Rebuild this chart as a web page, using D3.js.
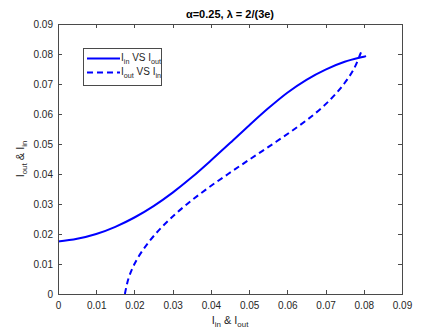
<!DOCTYPE html>
<html>
<head>
<meta charset="utf-8">
<script src="https://cdn.jsdelivr.net/npm/d3@7"></script>
<style>
  html, body { margin: 0; padding: 0; background: #ffffff; }
  svg { display: block; }
  text { font-family: "Liberation Sans", Arial, Helvetica, sans-serif; }
</style>
</head>
<body>
<svg id="chart" width="444" height="333"></svg>
<script>
// ---- data ----
const iIn  = [0, 0.005, 0.01, 0.015, 0.02, 0.025, 0.03, 0.035, 0.04, 0.045, 0.05, 0.055, 0.06, 0.065, 0.07, 0.075, 0.08, 0.0806];
const iOut = [0.0175, 0.0184, 0.0200, 0.0224, 0.0255, 0.0293, 0.0338, 0.0389, 0.0445, 0.0503, 0.0562, 0.0619, 0.0671, 0.0714, 0.0748, 0.0774, 0.0791, 0.0793];
const xTicks = [0, 0.01, 0.02, 0.03, 0.04, 0.05, 0.06, 0.07, 0.08, 0.09];
const yTicks = [0, 0.01, 0.02, 0.03, 0.04, 0.05, 0.06, 0.07, 0.08, 0.09];
const xTickLabels = ["0", "0.01", "0.02", "0.03", "0.04", "0.05", "0.06", "0.07", "0.08", "0.09"];
const yTickLabels = ["0", "0.01", "0.02", "0.03", "0.04", "0.05", "0.06", "0.07", "0.08", "0.09"];

const solid = iIn.map((v, i) => [v, iOut[i]]);
const dashed = iIn.map((v, i) => [iOut[i], v]);

const svg = d3.select("#chart");
const L = 58, R = 402, T = 24, B = 294;
const axisColor = "#4a4a4a";
const textColor = "#262626";

const x = d3.scaleLinear().domain([0, 0.09]).range([L, R]);
const y = d3.scaleLinear().domain([0, 0.09]).range([B, T]);

// lines
const line = d3.line().x(d => x(d[0])).y(d => y(d[1])).curve(d3.curveCatmullRom.alpha(0.5));
const g = svg.append("g");
g.append("path").datum(solid).attr("d", line)
  .attr("fill", "none").attr("stroke", "#0000ff").attr("stroke-width", 2);
g.append("path").datum(dashed).attr("d", line)
  .attr("fill", "none").attr("stroke", "#0000ff").attr("stroke-width", 2)
  .attr("stroke-dasharray", "6,4");

// axes
function styleAxis(sel) {
  sel.select(".domain").remove();
  sel.selectAll(".tick line").attr("stroke", axisColor).attr("shape-rendering", "crispEdges");
  sel.selectAll(".tick text").attr("fill", textColor)
    .style("font-family", '"Liberation Sans", Arial, sans-serif').style("font-size", "10px");
}
const fmtX = (d, i) => xTickLabels[i];
const fmtY = (d, i) => yTickLabels[i];

svg.append("g").attr("transform", `translate(0,${B})`)
  .call(d3.axisBottom(x).tickValues(xTicks).tickFormat(fmtX).tickSizeInner(-4).tickSizeOuter(0).tickPadding(8))
  .call(styleAxis);
svg.append("g").attr("transform", `translate(0,${T})`)
  .call(d3.axisTop(x).tickValues(xTicks).tickFormat(() => null).tickSizeInner(-4).tickSizeOuter(0))
  .call(styleAxis)
  .call(s => s.selectAll(".tick text").remove());
svg.append("g").attr("transform", `translate(${L},0)`)
  .call(d3.axisLeft(y).tickValues(yTicks).tickFormat(fmtY).tickSizeInner(-4).tickSizeOuter(0).tickPadding(5))
  .call(styleAxis);
svg.append("g").attr("transform", `translate(${R},0)`)
  .call(d3.axisRight(y).tickValues(yTicks).tickFormat(() => null).tickSizeInner(-4).tickSizeOuter(0))
  .call(styleAxis)
  .call(s => s.selectAll(".tick text").remove());

// box
svg.append("rect").attr("x", L).attr("y", T).attr("width", R - L).attr("height", B - T)
  .attr("fill", "none").attr("stroke", axisColor).attr("stroke-width", 1)
  .attr("shape-rendering", "crispEdges");

// helper for subscripted text
function subText(sel, parts, size) {
  let lowered = false;
  parts.forEach(p => {
    const ts = sel.append("tspan").text(p.t);
    if (p.sub) {
      ts.attr("font-size", size * 0.72).attr("dy", lowered ? 0 : size * 0.3);
      lowered = true;
    } else {
      ts.attr("font-size", size).attr("dy", lowered ? -size * 0.3 : 0);
      lowered = false;
    }
  });
}

// title
svg.append("text").attr("x", (L + R) / 2).attr("y", 18).attr("text-anchor", "middle")
  .attr("fill", "#000").attr("font-weight", "bold").attr("font-size", 11)
  .text("\u03b1=0.25, \u03bb = 2/(3e)");

// x label
const xl = svg.append("text").attr("x", (L + R) / 2).attr("y", 324).attr("text-anchor", "middle")
  .attr("fill", textColor);
subText(xl, [{t: "I"}, {t: "in", sub: true}, {t: " & I"}, {t: "out", sub: true}], 11);

// y label
const yl = svg.append("text").attr("transform", `translate(24,${(T + B) / 2}) rotate(-90)`)
  .attr("text-anchor", "middle").attr("fill", textColor);
subText(yl, [{t: "I"}, {t: "out", sub: true}, {t: " & I"}, {t: "in", sub: true}], 11);

// legend
const lg = svg.append("g");
lg.append("rect").attr("x", 83).attr("y", 48).attr("width", 78).attr("height", 37)
  .attr("fill", "#fff").attr("stroke", axisColor).attr("stroke-width", 1)
  .attr("shape-rendering", "crispEdges");
const legendItems = [
  {dash: null, parts: [{t: "I"}, {t: "in", sub: true}, {t: " VS I"}, {t: "out", sub: true}]},
  {dash: "6,4", parts: [{t: "I"}, {t: "out", sub: true}, {t: " VS I"}, {t: "in", sub: true}]}
];
legendItems.forEach((it, i) => {
  const yy = 58.5 + i * 14;
  const ln = lg.append("line").attr("x1", 87).attr("x2", 120).attr("y1", yy).attr("y2", yy)
    .attr("stroke", "#0000ff").attr("stroke-width", 2);
  if (it.dash) ln.attr("stroke-dasharray", it.dash);
  const t = lg.append("text").attr("x", 121).attr("y", yy + 2).attr("fill", textColor);
  subText(t, it.parts, 10);
});
</script>
</body>
</html>
